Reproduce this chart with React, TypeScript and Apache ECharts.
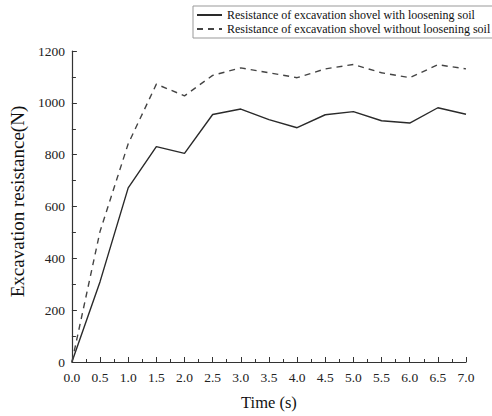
import React, { useEffect, useRef } from "react";
import * as echarts from "echarts";

const times = [0, 0.5, 1.0, 1.5, 2.0, 2.5, 3.0, 3.5, 4.0, 4.5, 5.0, 5.5, 6.0, 6.5, 7.0];
const withLoosening = [0, 310, 672, 831, 805, 955, 976, 935, 904, 954, 966, 931, 922, 981, 956];
const withoutLoosening = [0, 504, 842, 1072, 1027, 1106, 1135, 1116, 1097, 1131, 1148, 1116, 1097, 1147, 1131];
const seriesNames = [
  "Resistance of excavation shovel with loosening soil",
  "Resistance of excavation shovel without loosening soil",
];

const FONT = "Liberation Serif";

export default function App() {
  const ref = useRef<HTMLDivElement>(null);
  useEffect(() => {
    if (!ref.current) return;
    const chart = echarts.init(ref.current, undefined, { renderer: "svg" });
    const pts = (vals: number[]) => times.map((t, i) => [t, vals[i]]);
    chart.setOption({
      animation: false,
      backgroundColor: "#fff",
      textStyle: { fontFamily: FONT },
      grid: { left: 68, right: 26, top: 51, bottom: 45 },
      legend: {
        orient: "vertical",
        left: 193,
        top: 6,
        itemWidth: 25,
        itemHeight: 10,
        itemGap: 2,
        padding: [3, 4, 3, 3],
        borderColor: "#999",
        borderWidth: 1,
        itemStyle: { opacity: 0 },
        textStyle: { fontFamily: FONT, fontSize: 12, color: "#111" },
        data: seriesNames,
      },
      xAxis: {
        type: "value",
        min: 0,
        max: 7,
        interval: 0.5,
        name: "Time (s)",
        nameLocation: "middle",
        nameGap: 32,
        nameTextStyle: { fontFamily: FONT, fontSize: 16.5, color: "#111" },
        axisLine: { show: true, lineStyle: { color: "#333", width: 1.2 } },
        axisTick: { show: true, inside: true, length: 5, lineStyle: { color: "#333" } },
        minorTick: { show: true, splitNumber: 2, length: 3, lineStyle: { color: "#333" } },
        axisLabel: {
          fontFamily: FONT,
          fontSize: 13.5,
          color: "#222",
          margin: 8,
          formatter: (v: number) => v.toFixed(1),
        },
        splitLine: { show: false },
      },
      yAxis: {
        type: "value",
        min: 0,
        max: 1200,
        interval: 200,
        name: "Excavation resistance(N)",
        nameLocation: "middle",
        nameGap: 33,
        nameTextStyle: { fontFamily: FONT, fontSize: 19, color: "#111", padding: [0, 0, 0, 10] },
        axisLine: { show: true, lineStyle: { color: "#333", width: 1.2 } },
        axisTick: { show: true, inside: true, length: 5, lineStyle: { color: "#333" } },
        minorTick: { show: true, splitNumber: 2, length: 4, lineStyle: { color: "#333" } },
        axisLabel: {
          fontFamily: FONT,
          fontSize: 13.5,
          color: "#222",
          margin: 7,
          formatter: (v: number) => String(v),
        },
        splitLine: { show: false },
      },
      series: [
        {
          name: seriesNames[0],
          type: "line",
          data: pts(withLoosening),
          symbol: "none",
          lineStyle: { color: "#2a2a2a", width: 1.4, type: "solid" },
          itemStyle: { color: "#2a2a2a" },
        },
        {
          name: seriesNames[1],
          type: "line",
          data: pts(withoutLoosening),
          symbol: "none",
          lineStyle: { color: "#444", width: 1.4, type: [6, 5] },
          itemStyle: { color: "#444" },
        },
      ],
    });
    return () => chart.dispose();
  }, []);
  return (
    <div
      ref={ref}
      style={{ position: "absolute", left: 0, top: 0, width: 492, height: 416 }}
    />
  );
}
